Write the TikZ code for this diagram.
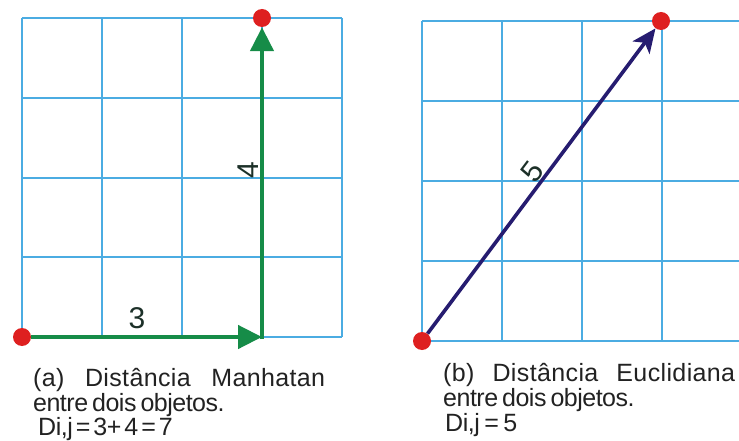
\documentclass[tikz,border=0pt]{standalone}
\usepackage{fontspec}
\setmainfont{Liberation Sans}
\newfontfamily\capwide[LetterSpace=1.5]{Liberation Sans}
\newfontfamily\capnarrow[LetterSpace=-2]{Liberation Sans}
\newcommand{\wsp}{\hspace{4pt}}
\newcommand{\wspc}{\hspace{3pt}}
\newcommand{\wspb}{\hspace{4.5pt}}
\usetikzlibrary{arrows.meta}
\definecolor{gridblue}{RGB}{75,172,226}
\definecolor{dotred}{RGB}{222,32,32}
\definecolor{agreen}{RGB}{22,140,72}
\definecolor{anavy}{RGB}{38,28,112}
\definecolor{txt}{RGB}{34,34,34}
\definecolor{numtxt}{RGB}{28,48,40}
\tikzset{
  gridline/.style={draw=gridblue, line width=1.2pt},
  dot/.style={circle, fill=dotred, inner sep=0pt, minimum size=18pt},
  garrow/.style={draw=agreen, line width=4.5pt, -{Triangle[length=24pt,width=23pt]}},
  barrow/.style={draw=anavy, line width=3.6pt, -{Stealth[length=24pt,width=21pt,inset=6pt]}},
  biglabel/.style={font=\fontsize{30}{30}\selectfont, text=numtxt, inner sep=0pt},
  caption/.style={text=txt, inner sep=0pt, anchor=base west},
  capA/.style={caption, font=\capwide\fontsize{25}{26}\selectfont},
  capB/.style={caption, font=\capnarrow\fontsize{25}{26}\selectfont}
}
\begin{document}
\begin{tikzpicture}[x=1pt,y=-1pt]
\useasboundingbox (0,0) rectangle (739,441);
% left grid
\foreach \x in {22,102,182,262,342} \draw[gridline] (\x,18) -- (\x,337);
\foreach \y in {18,98,178,257,337} \draw[gridline] (22,\y) -- (342,\y);
% right grid
\foreach \x in {422,502,582,662} \draw[gridline] (\x,21) -- (\x,341);
\foreach \y in {21,101,181,261,341} \draw[gridline] (422,\y) -- (739,\y);
% dots
\node[dot] (p1) at (22,337) {};
\node[dot] (p2) at (262,18) {};
\node[dot] (q1) at (422,341) {};
\node[dot] (q2) at (661,21) {};
\coordinate (c) at (262,337);
\coordinate (cb) at (262,339.2);
% arrows
\draw[garrow] (p1) -- (c);
\draw[garrow] (cb) -- (p2);
\draw[barrow] (q1) -- (q2);
% labels
\node[biglabel] (l3) at (137,318) {3};
\node[biglabel, rotate=90] (l4) at (248,170) {4};
\node[biglabel, rotate=53] (l5) at (532,172) {5};
% captions
\node[capA] (a1) at (33,386) {\makebox[292pt][s]{(a)\hfill Distância\hfill Manhatan}};
\node[capB] (a2) at (33,411) {entre\wsp dois\wsp objetos.};
\node[capB] (a3) at (38,435) {Di,j\wspc =\wspc 3+\wspc 4\wspc =\wspc 7};
\node[capA] (b1) at (443,381) {\makebox[292pt][s]{(b)\hfill Distância\hfill Euclidiana}};
\node[capB] (b2) at (443,406) {entre\wsp dois\wsp objetos.};
\node[capB] (b3) at (445,431) {Di,j\wspb =\wspb 5};
\end{tikzpicture}
\end{document}
